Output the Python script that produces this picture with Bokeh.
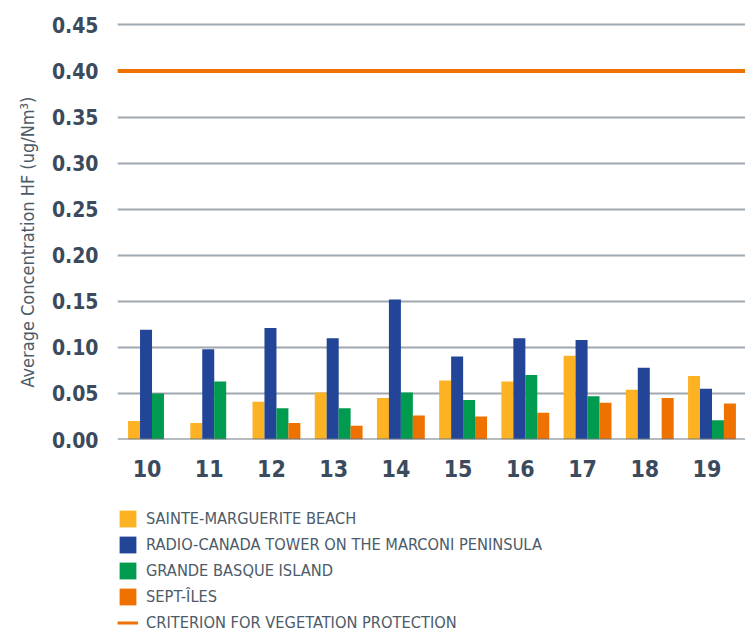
import numpy as np
from bokeh.plotting import figure
from bokeh.layouts import column
from bokeh.models import (ColumnDataSource, Range1d, FixedTicker, NumeralTickFormatter,
                          Span, Legend, LegendItem, Title)
from bokeh.transform import dodge
from bokeh.embed import file_html
from bokeh.resources import INLINE

nan = float("nan")
years = [10, 11, 12, 13, 14, 15, 16, 17, 18, 19]
sainte_marguerite = [0.020, 0.018, 0.041, 0.051, 0.045, 0.064, 0.063, 0.091, 0.054, 0.069]
radio_canada = [0.119, 0.098, 0.121, 0.110, 0.152, 0.090, 0.110, 0.108, 0.078, 0.055]
grande_basque = [0.050, 0.063, 0.034, 0.034, 0.051, 0.043, 0.070, 0.047, nan, 0.021]
sept_iles = [nan, nan, 0.018, 0.015, 0.026, 0.025, 0.029, 0.040, 0.045, 0.039]
criterion = 0.40
y_ticks = [0.0, 0.05, 0.10, 0.15, 0.20, 0.25, 0.30, 0.35, 0.40, 0.45]
y_label = "Average Concentration HF (ug/Nm³)"

series_names = ["SAINTE-MARGUERITE BEACH",
                "RADIO-CANADA TOWER ON THE MARCONI PENINSULA",
                "GRANDE BASQUE ISLAND",
                "SEPT-ÎLES"]
criterion_name = "CRITERION FOR VEGETATION PROTECTION"
colors = ["#FDB223", "#224597", "#009B4E", "#EF7100"]
crit_color = "#EF7100"

src = ColumnDataSource(dict(year=years, s0=sainte_marguerite, s1=radio_canada,
                            s2=grande_basque, s3=sept_iles))

TEXT = "#3B4B5D"
LTEXT = "#4D5B69"
COND = "DejaVu Sans Condensed"

X0, X1 = 9.4455, 19.5387
p = figure(width=745, height=508, output_backend="svg", toolbar_location=None,
           x_range=Range1d(X0, X1), y_range=Range1d(0, 0.457),
           min_border_left=117, min_border_right=0, min_border_top=18,
           min_border_bottom=69)
p.extra_x_ranges = {"lab": Range1d(X0 + 0.08, X1 + 0.08)}
p.outline_line_color = None
p.xgrid.grid_line_color = None
p.ygrid.grid_line_color = "#A0A8B0"
p.ygrid.grid_line_width = 2
p.ygrid.ticker = FixedTicker(ticks=y_ticks)

offsets = [-0.288, -0.096, 0.096, 0.288]
for i, (off, col) in enumerate(zip(offsets, colors)):
    p.vbar(x=dodge("year", off), top="s%d" % i, width=0.193, source=src,
           fill_color=col, line_color=None)

p.add_layout(Span(location=0, dimension="width", line_color="#6B7884", line_width=2))
p.add_layout(Span(location=criterion, dimension="width", line_color=crit_color, line_width=4))

# axes
p.yaxis.ticker = FixedTicker(ticks=y_ticks)
p.yaxis.formatter = NumeralTickFormatter(format="0.00")
p.yaxis.axis_line_color = None
p.yaxis.major_tick_line_color = None
p.yaxis.minor_tick_line_color = None
p.yaxis.major_label_standoff = 13
p.yaxis.major_label_text_font = COND
p.yaxis.major_label_text_font_style = "bold"
p.yaxis.major_label_text_font_size = "21px"
p.yaxis.major_label_text_color = TEXT

ytitle = Title(text=y_label, align="left", offset=52, standoff=22,
               text_font=COND, text_font_style="normal", text_font_size="18px",
               text_color=LTEXT)
p.add_layout(ytitle, "left")

p.xaxis.x_range_name = "lab"
p.xaxis.ticker = FixedTicker(ticks=years)
p.xaxis.axis_line_color = None
p.xaxis.major_tick_line_color = None
p.xaxis.minor_tick_line_color = None
p.xaxis.major_label_standoff = 14
p.xaxis.major_label_text_font = COND
p.xaxis.major_label_text_font_style = "bold"
p.xaxis.major_label_text_font_size = "23px"
p.xaxis.major_label_text_color = TEXT

# legend figure (below the chart); its renderers use the real data, outside its view
lf = figure(width=745, height=124, output_backend="svg", toolbar_location=None,
            x_range=Range1d(0, 1), y_range=Range1d(0, 1),
            min_border_left=114, min_border_right=0, min_border_top=0,
            min_border_bottom=0)
lf.axis.visible = False
lf.grid.visible = False
lf.outline_line_color = None
items = []
for i, (n, col) in enumerate(zip(series_names, colors)):
    r = lf.vbar(x="year", top="s%d" % i, width=0.1, source=src,
                fill_color=col, line_color=None)
    items.append(LegendItem(label=n, renderers=[r]))
lr = lf.line(x="year", y="s0", source=src, line_color=crit_color, line_width=3)
items.append(LegendItem(label=criterion_name, renderers=[lr]))
legend = Legend(items=items, location="top_left", orientation="vertical",
                glyph_width=21, glyph_height=21, label_height=17, spacing=5,
                label_standoff=8, padding=0, margin=0,
                label_text_font=COND, label_text_font_size="16.3px",
                label_text_color=LTEXT, border_line_color=None,
                background_fill_alpha=0)
lf.add_layout(legend)

layout = column(p, lf, spacing=0)
open("out.html", "w").write(file_html(layout, INLINE))
